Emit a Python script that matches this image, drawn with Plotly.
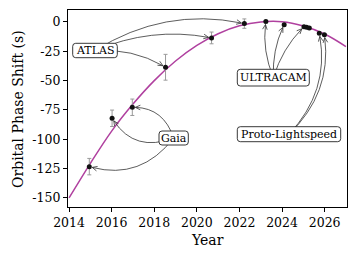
import math
import plotly.graph_objects as go

# ---------------- data ----------------
gaia_year = [2014.95, 2016.02, 2016.97]
gaia_shift = [-123.3, -82.1, -72.7]
gaia_err = [7.0, 7.0, 7.0]

atlas_year = [2018.53, 2020.69, 2022.23]
atlas_shift = [-38.6, -13.6, -1.4]
atlas_err = [11.0, 5.0, 4.0]

ultracam_year = [2023.24, 2024.10, 2025.03, 2025.15, 2025.28]
ultracam_shift = [0.4, -2.3, -4.0, -4.5, -5.1]
ultracam_err = [1.0, 1.0, 1.0, 1.0, 1.0]

proto_year = [2025.75, 2025.99]
proto_shift = [-9.7, -10.8]
proto_err = [0.8, 0.8]

model_year = [2014, 2015, 2016, 2017, 2018, 2019, 2020, 2021, 2022, 2023, 2024, 2025, 2026, 2027]
model_shift = [-150.0, -120.5, -93.0, -70.0, -50.0, -33.3, -20.0, -10.0, -3.3, 0.0, 0.2, -3.5, -10.3, -21.0]

xtick_vals = [2014, 2016, 2018, 2020, 2022, 2024, 2026]
xtick_text = ["2014", "2016", "2018", "2020", "2022", "2024", "2026"]
ytick_vals = [0, -25, -50, -75, -100, -125, -150]
ytick_text = ["0", "-25", "-50", "-75", "-100", "-125", "-150"]

# ---------------- layout geometry ----------------
# the page body has an 8px margin, so the figure is drawn 8px in from the window corner
OFF = 8
W, H = 356 - OFF, 259 - OFF
ML, MR, MT, MB = 68 - OFF, 9, 10 - OFF, 52
PW, PH = W - ML - MR, H - MT - MB
X0, X1 = 2013.95, 2027.05
Y0, Y1 = -157.7, 10.2
FONT = "DejaVu Serif"


def to_px(x, y):
    # figure pixel coordinates
    return ML + (x - X0) / (X1 - X0) * PW, MT + (Y1 - y) / (Y1 - Y0) * PH


def to_data(px, py):
    return X0 + (px - ML) / PW * (X1 - X0), Y1 - (py - MT) / PH * (Y1 - Y0)


def to_paper(px, py):
    return (px - ML) / PW, (MT + PH - py) / PH


def win(px, py):
    # window pixel -> figure pixel
    return px - OFF, py - OFF


fig = go.Figure()

fig.add_trace(go.Scatter(x=model_year, y=model_shift, mode="lines",
                         line=dict(color="#b0409f", width=1.5, shape="spline", smoothing=1.0),
                         hoverinfo="skip", showlegend=False))

for xs, ys, es in [(gaia_year, gaia_shift, gaia_err), (atlas_year, atlas_shift, atlas_err),
                   (ultracam_year, ultracam_shift, ultracam_err), (proto_year, proto_shift, proto_err)]:
    fig.add_trace(go.Scatter(x=xs, y=ys, mode="markers",
                             marker=dict(color="#111111", size=5),
                             error_y=dict(type="data", array=es, color="#9a9a9a", thickness=1, width=2),
                             showlegend=False))

# ---------------- labels (window-pixel boxes) ----------------
labels = {
    "ATLAS": (72.7, 43.3, 117.3, 57.7),
    "Gaia": (159.0, 131.0, 188.3, 145.0),
    "ULTRACAM": (237.3, 69.3, 309.3, 86.0),
    "Proto-Lightspeed": (237.3, 126.7, 340.7, 141.7),
}
labels = {k: (v[0] - OFF, v[1] - OFF, v[2] - OFF, v[3] - OFF) for k, v in labels.items()}

arrows = [
    ("ATLAS", atlas_year[0], atlas_shift[0], 0.15),
    ("ATLAS", atlas_year[1], atlas_shift[1], 0.15),
    ("ATLAS", atlas_year[2], atlas_shift[2], 0.2),
    ("Gaia", gaia_year[0], gaia_shift[0], 0.33),
    ("Gaia", gaia_year[1], gaia_shift[1], 0.4),
    ("Gaia", gaia_year[2], gaia_shift[2], -0.35),
    ("ULTRACAM", ultracam_year[0], ultracam_shift[0], 0.13),
    ("ULTRACAM", ultracam_year[1], ultracam_shift[1], 0.12),
    ("ULTRACAM", ultracam_year[2], ultracam_shift[2], 0.12),
    ("Proto-Lightspeed", proto_year[0], proto_shift[0], -0.25),
    ("Proto-Lightspeed", proto_year[1], proto_shift[1], -0.25),
]

shapes = []
for name, tx, ty, k in arrows:
    bx0, by0, bx1, by1 = labels[name]
    sx, sy = (bx0 + bx1) / 2, (by0 + by1) / 2
    ex, ey = to_px(tx, ty)
    dx, dy = ex - sx, ey - sy
    mx, my = (sx + ex) / 2, (sy + ey) / 2
    cx, cy = mx + k * dy, my - k * dx
    tx_, ty_ = ex - cx, ey - cy
    tl = math.hypot(tx_, ty_)
    ux, uy = tx_ / tl, ty_ / tl
    ex2, ey2 = ex - 3.0 * ux, ey - 3.0 * uy
    hl, hw = 5.0, 2.3
    h1 = (ex2 - hl * ux - hw * uy, ey2 - hl * uy + hw * ux)
    h2 = (ex2 - hl * ux + hw * uy, ey2 - hl * uy - hw * ux)
    P = [to_data(*p) for p in [(sx, sy), (cx, cy), (ex2, ey2), h1, h2]]
    path = (f"M{P[0][0]},{P[0][1]} Q{P[1][0]},{P[1][1]} {P[2][0]},{P[2][1]} "
            f"M{P[3][0]},{P[3][1]} L{P[2][0]},{P[2][1]} L{P[4][0]},{P[4][1]}")
    shapes.append(dict(type="path", xref="x", yref="y", path=path, layer="above",
                       line=dict(color="#333333", width=0.8)))

annotations = []
r = 3.0
for name, (bx0, by0, bx1, by1) in labels.items():
    p = [to_paper(*q) for q in [
        (bx0 + r, by0), (bx1 - r, by0), (bx1, by0), (bx1, by0 + r), (bx1, by1 - r), (bx1, by1),
        (bx1 - r, by1), (bx0 + r, by1), (bx0, by1), (bx0, by1 - r), (bx0, by0 + r), (bx0, by0)]]
    path = (f"M{p[0][0]},{p[0][1]} L{p[1][0]},{p[1][1]} Q{p[2][0]},{p[2][1]} {p[3][0]},{p[3][1]} "
            f"L{p[4][0]},{p[4][1]} Q{p[5][0]},{p[5][1]} {p[6][0]},{p[6][1]} "
            f"L{p[7][0]},{p[7][1]} Q{p[8][0]},{p[8][1]} {p[9][0]},{p[9][1]} "
            f"L{p[10][0]},{p[10][1]} Q{p[11][0]},{p[11][1]} {p[0][0]},{p[0][1]} Z")
    shapes.append(dict(type="path", xref="paper", yref="paper", path=path, layer="above",
                       fillcolor="white", line=dict(color="#222222", width=0.9)))
    cxp, cyp = to_paper((bx0 + bx1) / 2, (by0 + by1) / 2)
    annotations.append(dict(text=name, xref="paper", yref="paper", x=cxp, y=cyp,
                            xanchor="center", yanchor="middle", showarrow=False,
                            font=dict(family=FONT, size=11, color="black")))

# axis titles
xt = to_paper(*win(207.5, 240.0))
annotations.append(dict(text="Year", xref="paper", yref="paper", x=xt[0], y=xt[1],
                        xanchor="center", yanchor="middle", showarrow=False,
                        font=dict(family=FONT, size=14, color="black")))
yt = to_paper(*win(17.5, 109.5))
annotations.append(dict(text="Orbital Phase Shift (s)", xref="paper", yref="paper", x=yt[0], y=yt[1],
                        xanchor="center", yanchor="middle", showarrow=False, textangle=-90,
                        font=dict(family=FONT, size=14, color="black")))

axis_common = dict(showgrid=False, zeroline=False, showline=True, mirror=True,
                   linecolor="black", linewidth=1.3, ticks="outside", ticklen=4,
                   tickwidth=1, tickcolor="black", automargin=False,
                   tickfont=dict(family=FONT, size=12.5, color="black"))

fig.update_layout(
    width=W, height=H,
    margin=dict(l=ML, r=MR, t=MT, b=MB, pad=0, autoexpand=False),
    paper_bgcolor="white", plot_bgcolor="white",
    xaxis=dict(range=[X0, X1], tickvals=xtick_vals, ticktext=xtick_text, **axis_common),
    yaxis=dict(range=[Y0, Y1], tickvals=ytick_vals, ticktext=ytick_text, **axis_common),
    shapes=shapes, annotations=annotations, showlegend=False,
)

fig.write_html("out.html")
